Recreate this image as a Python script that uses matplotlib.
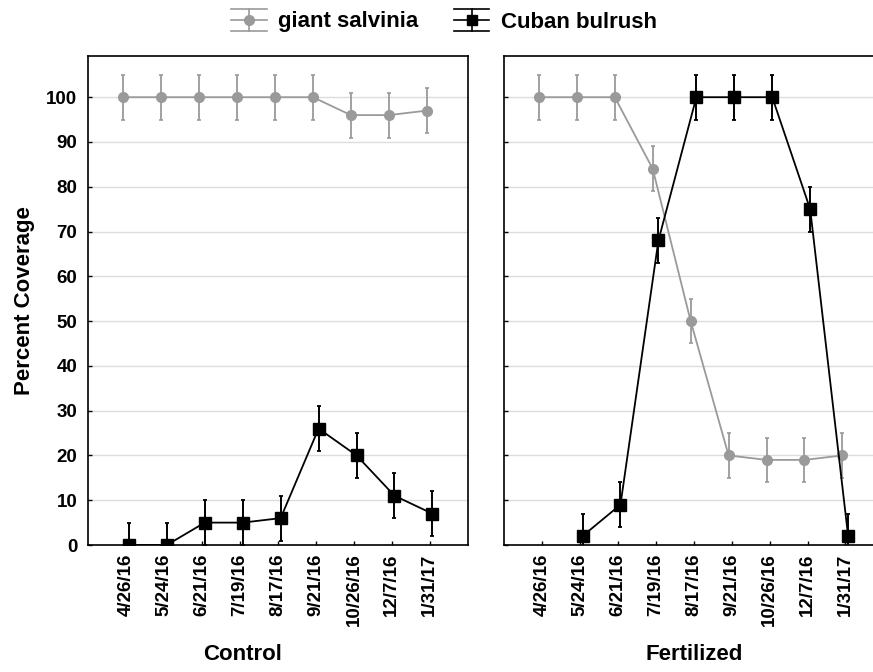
import matplotlib
matplotlib.use("Agg")
import matplotlib.pyplot as plt
import numpy as np
from matplotlib.legend_handler import HandlerBase
from matplotlib.lines import Line2D

plt.rcParams['font.family'] = ['Liberation Sans', 'DejaVu Sans']
plt.rcParams['font.weight'] = 'bold'

dates = ["4/26/16", "5/24/16", "6/21/16", "7/19/16", "8/17/16",
         "9/21/16", "10/26/16", "12/7/16", "1/31/17"]

# Control
ctrl_salvinia = [100, 100, 100, 100, 100, 100, 96, 96, 97]
ctrl_salvinia_err = [5, 5, 5, 5, 5, 5, 5, 5, 5]
ctrl_bulrush = [0, 0, 5, 5, 6, 26, 20, 11, 7]
ctrl_bulrush_err = [5, 5, 5, 5, 5, 5, 5, 5, 5]

# Fertilized
fert_salvinia = [100, 100, 100, 84, 50, 20, 19, 19, 20]
fert_salvinia_err = [5, 5, 5, 5, 5, 5, 5, 5, 5]
fert_bulrush = [np.nan, 2, 9, 68, 100, 100, 100, 75, 2]
fert_bulrush_err = [5, 5, 5, 5, 5, 5, 5, 5, 5]

GRAY = "#9a9a9a"
BLACK = "#000000"


class CapHandler(HandlerBase):
    # legend symbol: line + marker + full-width caps on top and bottom
    def create_artists(self, legend, orig_handle, xdescent, ydescent,
                       width, height, fontsize, trans):
        c = orig_handle.get_color()
        x0, x1 = -xdescent, width - xdescent
        xm = (x0 + x1) / 2
        cy = (height - ydescent) / 2
        d = 0.5 * fontsize
        lw = 1.2
        arts = [
            Line2D([x0, x1], [cy, cy], color=c, lw=lw),
            Line2D([x0, x1], [cy + d, cy + d], color=c, lw=lw),
            Line2D([x0, x1], [cy - d, cy - d], color=c, lw=lw),
            Line2D([xm, xm], [cy - d, cy + d], color=c, lw=lw),
            Line2D([xm], [cy], marker=orig_handle.get_marker(),
                   ms=orig_handle.get_markersize(), color=c, lw=0),
        ]
        for a in arts:
            a.set_transform(trans)
        return arts


def draw_panel(ax, salv, salv_err, bul, bul_err):
    x = np.arange(len(dates))
    ax.errorbar(x - 0.08, salv, yerr=salv_err, color=GRAY, marker="o", ms=7,
                lw=1.3, elinewidth=1.3, capsize=1.3, capthick=1.2, zorder=3)
    ax.errorbar(x + 0.07, bul, yerr=bul_err, color=BLACK, marker="s", ms=8.5,
                lw=1.3, elinewidth=1.4, capsize=1.3, capthick=1.3, zorder=4)
    ax.set_xlim(-1, 9)
    ax.set_ylim(0, 109.2)
    ax.set_xticks(x)
    ax.set_xticklabels(dates, rotation=90, fontsize=13.5, fontweight="bold")
    ax.set_yticks(np.arange(0, 101, 10))
    ax.grid(axis="y", color="#dcdcdc", lw=1)
    ax.set_axisbelow(True)
    ax.tick_params(direction="in", length=3, width=1, pad=6)
    ax.tick_params(axis="y", pad=8, labelsize=13.5)
    for s in ax.spines.values():
        s.set_linewidth(1.2)


fig = plt.figure(figsize=(8.73, 6.72), dpi=100)
bottom = 1 - 545 / 672
height = (545 - 56) / 672
width = 379.4 / 873
ax1 = fig.add_axes([88.3 / 873, bottom, width, height])
ax2 = fig.add_axes([504 / 873, bottom, width, height])

draw_panel(ax1, ctrl_salvinia, ctrl_salvinia_err, ctrl_bulrush, ctrl_bulrush_err)
draw_panel(ax2, fert_salvinia, fert_salvinia_err, fert_bulrush, fert_bulrush_err)
ax2.set_yticklabels([])

ax1.set_ylabel("Percent Coverage", fontsize=16, fontweight="bold")
ax1.yaxis.set_label_coords(-0.141, 0.5)

fig.text(243 / 873, 1 - 655 / 672, "Control", ha="center", va="center",
         fontsize=16, fontweight="bold")
fig.text(694 / 873, 1 - 655 / 672, "Fertilized", ha="center", va="center",
         fontsize=16, fontweight="bold")

handles = [Line2D([], [], color=GRAY, marker="o", ms=7),
           Line2D([], [], color=BLACK, marker="s", ms=7.5)]
fig.legend(handles, ["giant salvinia", "Cuban bulrush"],
           handler_map={Line2D: CapHandler()},
           loc="center", bbox_to_anchor=(444 / 873, 1 - 22 / 672), ncol=2,
           frameon=False, prop={"size": 16, "weight": "bold"},
           handlelength=1.6, handletextpad=0.5, columnspacing=1.6)

fig.savefig("out.png", dpi=100)
